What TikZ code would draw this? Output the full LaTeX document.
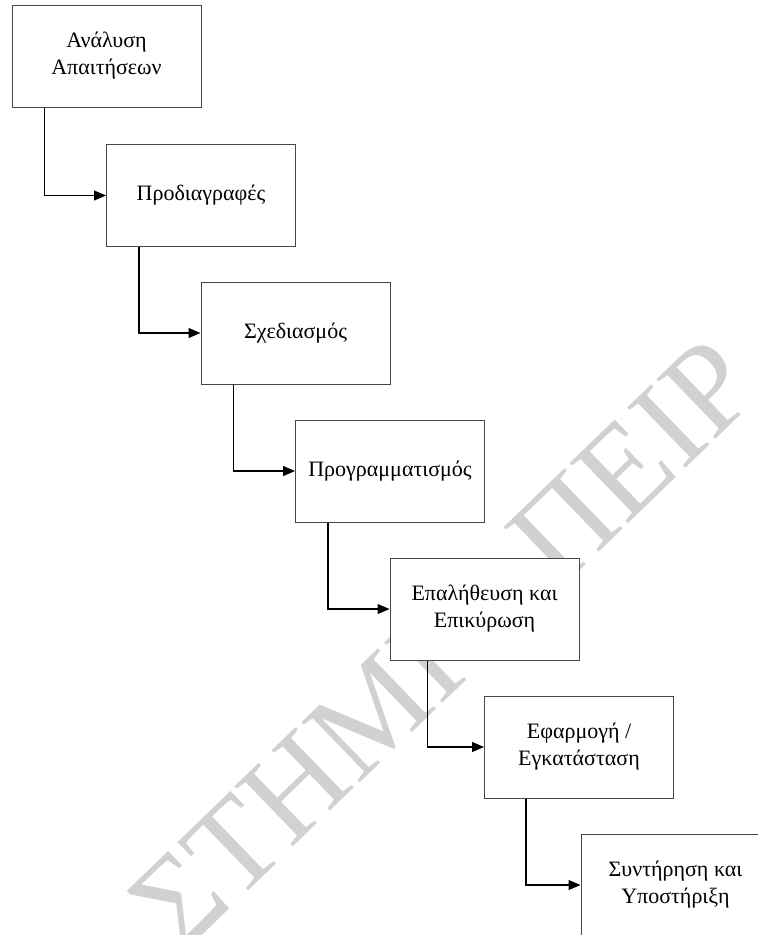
\documentclass[tikz,border=0pt]{standalone}
\usepackage{fontspec}
\setmainfont{Liberation Serif}
\usetikzlibrary{arrows.meta,calc}
\begin{document}
\begin{tikzpicture}[x=1pt,y=-1pt,
  stage/.style={draw=black!72,line width=1pt,fill=white,
    minimum width=189pt,minimum height=102pt,inner sep=0pt,
    align=center,font=\fontsize{22}{27}\selectfont},
  flow/.style={draw=black,line width=1.1pt,
    -{Triangle[length=12pt,width=10pt]}},
  wmark/.style={text=black!18,inner sep=0pt,
    font=\fontsize{128}{128}\selectfont}
]
\useasboundingbox (0,0) rectangle (758,935);
\clip (0,0) rectangle (758,935);

% background watermark
\node[wmark,rotate=44,anchor=base west] (wm) at (181,956)
  {ΣΤΗΜΙΟ ΠΕΙΡ};

% process stages
\node[stage] (s1) at (106.5,56)  {Ανάλυση\\Απαιτήσεων};
\node[stage] (s2) at (201,195.5) {Προδιαγραφές};
\node[stage] (s3) at (295.5,333) {Σχεδιασμός};
\node[stage] (s4) at (390,471)   {Προγραμματισμός};
\node[stage] (s5) at (484.5,609) {Επαλήθευση και\\Επικύρωση};
\node[stage] (s6) at (579,747)   {Εφαρμογή /\\Εγκατάσταση};
\node[stage] (s7) at (675.5,885) {Συντήρηση και\\Υποστήριξη};

% step-down connectors
\draw[flow] ($(s1.south west)+(33,0)$) |- (s2.west);
\draw[flow] ($(s2.south west)+(33,0)$) |- (s3.west);
\draw[flow] ($(s3.south west)+(33,0)$) |- (s4.west);
\draw[flow] ($(s4.south west)+(33,0)$) |- (s5.west);
\draw[flow] ($(s5.south west)+(38,0)$) |- (s6.west);
\draw[flow] ($(s6.south west)+(42,0)$) |- (s7.west);
\end{tikzpicture}
\end{document}
